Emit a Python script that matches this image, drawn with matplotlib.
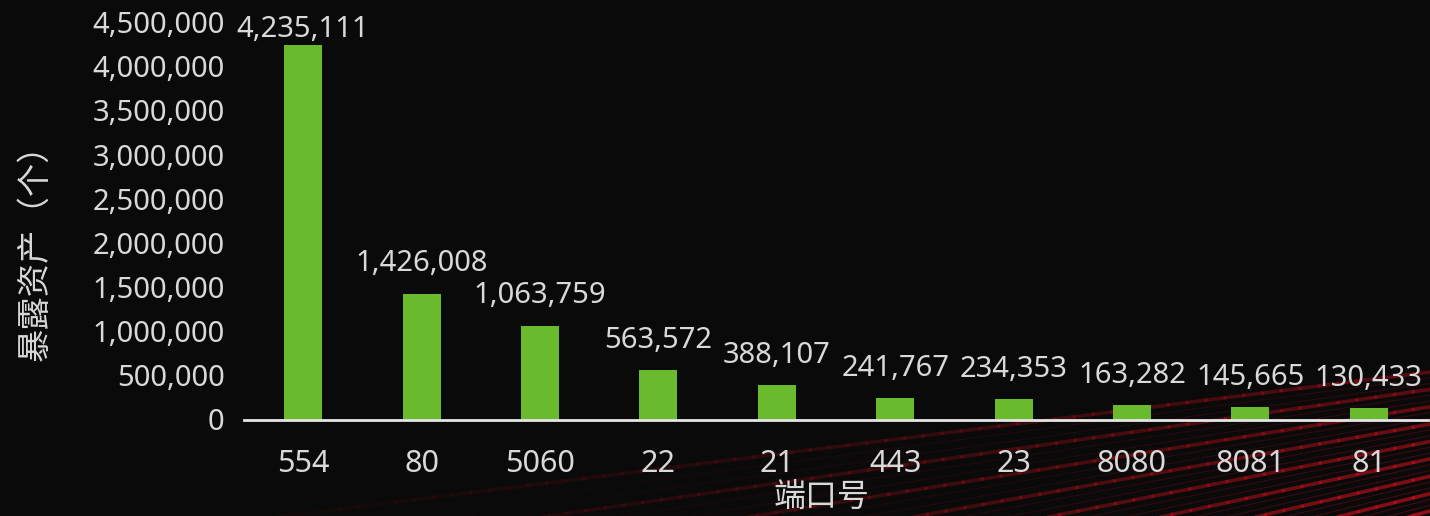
import numpy as np
import matplotlib
matplotlib.use("Agg")
import matplotlib.pyplot as plt
from matplotlib.collections import LineCollection
from matplotlib.colors import to_rgb
from matplotlib.ticker import FuncFormatter

plt.rcParams['font.family'] = ['Noto Sans', 'Noto Sans CJK SC', 'DejaVu Sans']

ports = ['554', '80', '5060', '22', '21', '443', '23', '8080', '8081', '81']
counts = [4235111, 1426008, 1063759, 563572, 388107, 241767, 234353, 163282, 145665, 130433]

bg = '#0a0a0a'
bar_color = '#6aba2e'
text_color = '#d9d9d9'

W, H = 1430, 516
fig = plt.figure(figsize=(W / 100, H / 100), dpi=100, facecolor=bg)

# background: red light streaks running in from the lower right
bg_ax = fig.add_axes([0, 0, 1, 1], zorder=0)
bg_ax.set_xlim(0, W)
bg_ax.set_ylim(H, 0)
bg_ax.axis('off')
vp = np.array([2400.0, 250.0])
edge_y = np.linspace(372, 540, 30)
red = to_rgb('#c8101a')
segs, cols, widths = [], [], []
for i, ey in enumerate(edge_y):
    d = np.array([W, ey]) - vp
    d = d / np.linalg.norm(d)
    start = vp + d * (np.linalg.norm(np.array([W, ey]) - vp) - 40)
    length = 1500
    t = np.linspace(0, length, 80)
    pts = start[None, :] + d[None, :] * t[:, None]
    strength = (0.35 + 0.45 * (i % 3 == 0)) * (0.5 + 0.5 * i / len(edge_y))
    for a, b in zip(pts[:-1], pts[1:]):
        xm = (a[0] + b[0]) / 2
        fade = np.clip((xm - 50) / (W - 50), 0, 1) ** 1.3
        segs.append([a, b])
        cols.append((*red, fade * strength))
        widths.append(0.8 + 1.8 * (i % 3 == 0))
bg_ax.add_collection(LineCollection(segs, colors=cols, linewidths=widths, capstyle='round'))

ax = fig.add_axes([244 / W, 1 - 419.5 / H, 1184 / W, (419.5 - 22) / H], zorder=1)
ax.set_facecolor('none')

x = np.arange(len(ports))
ax.bar(x, counts, width=0.32, color=bar_color, zorder=2)

ax.set_xlim(-0.5, len(ports) - 0.5)
ax.set_ylim(0, 4500000)
ax.set_yticks(np.arange(0, 4500001, 500000))
ax.yaxis.set_major_formatter(FuncFormatter(lambda v, p: f'{int(v):,}'))
ax.set_xticks(x)
ax.set_xticklabels(ports)

ax.tick_params(axis='y', length=0, pad=14, labelsize=21, labelcolor=text_color)
ax.tick_params(axis='x', length=0, pad=21, labelsize=22, labelcolor=text_color)

for s in ['top', 'right', 'left']:
    ax.spines[s].set_visible(False)
ax.spines['bottom'].set_color('#e6e6e6')
ax.spines['bottom'].set_linewidth(2)

for xi, v in zip(x, counts):
    ax.text(xi, min(v + 250000, 4330000), f'{v:,}', ha='center', va='baseline',
            fontsize=21, color=text_color)

fig.text(822 / W, 1 - 497 / H, '端口号', ha='center', va='center',
         fontsize=23, color=text_color, family=['Noto Sans CJK SC'])
fig.text(35 / W, 1 - 244 / H, '暴露资产（个）', ha='center', va='center',
         rotation=90, fontsize=24, color=text_color, family=['Noto Sans CJK SC'])

fig.savefig('out.png', dpi=100, facecolor=bg)
